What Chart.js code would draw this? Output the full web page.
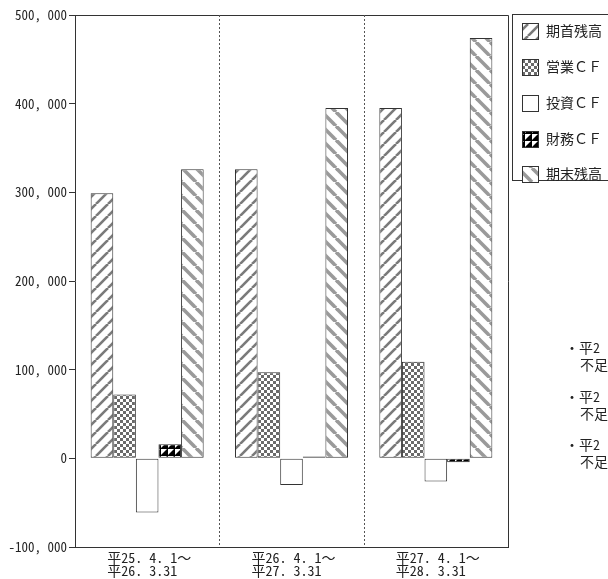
<!DOCTYPE html>
<html><head><meta charset="utf-8">
<script src="https://cdn.jsdelivr.net/npm/chart.js@4/dist/chart.umd.min.js"></script>
<style>html,body{margin:0;padding:0;background:#fff;overflow:hidden}#wrap{position:relative;width:608px;height:579px}</style>
</head><body><div id="wrap"><canvas id="c" width="608" height="579"></canvas></div>
<script>
const categories = [['平25. 4. 1～','平26. 3.31'],['平26. 4. 1～','平27. 3.31'],['平27. 4. 1～','平28. 3.31']];
const seriesNames = ['期首残高','営業ＣＦ','投資ＣＦ','財務ＣＦ','期末残高'];
const openingBalance = [299000, 326000, 395000];
const operatingCF = [72000, 97000, 109000];
const investingCF = [-61000, -30000, -26000];
const financingCF = [16000, 2000, -4500];
const closingBalance = [326000, 395000, 474000];
const yTickValues = [-100000, 0, 100000, 200000, 300000, 400000, 500000];
const yTickLabels = ['-100, 000', '0', '100, 000', '200, 000', '300, 000', '400, 000', '500, 000'];
const noteBullets = ['・平2', '・平2', '・平2'];
const noteSecond = ['不足', '不足', '不足'];

const FONT = "'Noto Sans Mono CJK JP','Noto Sans CJK JP',sans-serif";

function makePattern(draw, w, h) {
  const c = document.createElement('canvas');
  c.width = w; c.height = h;
  const x = c.getContext('2d');
  x.fillStyle = '#fff'; x.fillRect(0, 0, w, h);
  draw(x, w, h);
  return document.createElement('canvas').getContext('2d').createPattern(c, 'repeat');
}
const pOpen = makePattern((x, w, h) => {
  x.strokeStyle = '#7a7a7a'; x.lineWidth = 2.6;
  for (const o of [-w, 0, w]) { x.beginPath(); x.moveTo(o, h); x.lineTo(o + w, 0); x.stroke(); }
}, 12, 12);
const pOper = makePattern((x, w, h) => {
  x.fillStyle = '#6a6a6a';
  x.fillRect(0, 0, 3, 3); x.fillRect(3, 3, 3, 3);
}, 6, 6);
const pInv = '#ffffff';
const pFin = makePattern((x, w, h) => {
  x.fillStyle = '#000';
  x.beginPath(); x.moveTo(0, h); x.lineTo(w, 0); x.lineTo(w, h); x.closePath(); x.fill();
  x.fillRect(0, 0, w, 1);
}, 7, 7);
const pClose = makePattern((x, w, h) => {
  x.strokeStyle = '#9a9a9a'; x.lineWidth = 3.6;
  for (const o of [-w, 0, w]) { x.beginPath(); x.moveTo(o, 0); x.lineTo(o + w, h); x.stroke(); }
}, 14, 14);
const fills = [pOpen, pOper, pInv, pFin, pClose];
const seriesData = [openingBalance, operatingCF, investingCF, financingCF, closingBalance];

const overlay = {
  id: 'overlay',
  afterDraw(chart) {
    const ctx = chart.ctx, a = chart.chartArea, xs = chart.scales.x;
    ctx.save();
    ctx.strokeStyle = '#333'; ctx.lineWidth = 1;
    ctx.beginPath(); ctx.moveTo(a.left, a.top + 0.5); ctx.lineTo(a.right + 0.5, a.top + 0.5); ctx.lineTo(a.right + 0.5, a.bottom); ctx.stroke();
    ctx.strokeStyle = '#555'; ctx.setLineDash([2, 2]);
    for (let i = 0; i < categories.length - 1; i++) {
      const px = Math.round((xs.getPixelForValue(i) + xs.getPixelForValue(i + 1)) / 2) + 0.5;
      ctx.beginPath(); ctx.moveTo(px, a.top); ctx.lineTo(px, a.bottom); ctx.stroke();
    }
    ctx.setLineDash([]);
    ctx.fillStyle = '#222'; ctx.font = '14px ' + FONT; ctx.textAlign = 'left'; ctx.textBaseline = 'middle';
    categories.forEach((lab, i) => {
      const cx = xs.getPixelForValue(i) - 40;
      lab.forEach((t, j) => ctx.fillText(t, cx, a.bottom + 11 + j * 12.5));
    });
    ctx.strokeStyle = '#333';
    ctx.strokeRect(512.5, 14.5, 120, 166);
    const ly = [31, 67, 103, 139, 174];
    seriesNames.forEach((n, i) => {
      ctx.fillStyle = fills[i];
      ctx.fillRect(522, ly[i] - 8, 16, 16);
      ctx.strokeStyle = '#333';
      ctx.strokeRect(522.5, ly[i] - 7.5, 16, 16);
      ctx.fillStyle = '#222';
      ctx.fillText(n, 546, ly[i]);
    });
    const ny = [348, 397, 445];
    ny.forEach((y, i) => {
      ctx.fillText(noteBullets[i], 565, y);
      ctx.fillText(noteSecond[i], 580, y + 17);
    });
    ctx.restore();
  }
};

new Chart(document.getElementById('c'), {
  type: 'bar',
  data: {
    labels: categories.map(c => c.join(' ')),
    datasets: seriesNames.map((n, i) => ({
      label: n, data: seriesData[i], backgroundColor: fills[i],
      borderColor: '#333', borderWidth: 1, borderSkipped: false,
      categoryPercentage: 0.783, barPercentage: 1.0
    }))
  },
  options: {
    responsive: false, animation: false, devicePixelRatio: 1,
    layout: { padding: { top: 15, right: 100, left: 0, bottom: 0 } },
    plugins: { legend: { display: false }, tooltip: { enabled: false } },
    scales: {
      x: {
        grid: { display: false },
        border: { display: true, color: '#333' },
        ticks: { display: false },
        afterFit(s) { s.height = 32; }
      },
      y: {
        min: -100000, max: 500000,
        afterBuildTicks(s) { s.ticks = yTickValues.map(v => ({ value: v })); },
        grid: { drawOnChartArea: false, drawTicks: true, tickLength: 6, color: '#333' },
        border: { display: true, color: '#333' },
        ticks: {
          autoSkip: false,
          font: { size: 13, family: FONT }, color: '#222', padding: 2,
          callback: (v) => yTickLabels[yTickValues.indexOf(v)]
        },
        afterFit(s) { s.width = 75; }
      }
    }
  },
  plugins: [overlay]
});
</script></body></html>
